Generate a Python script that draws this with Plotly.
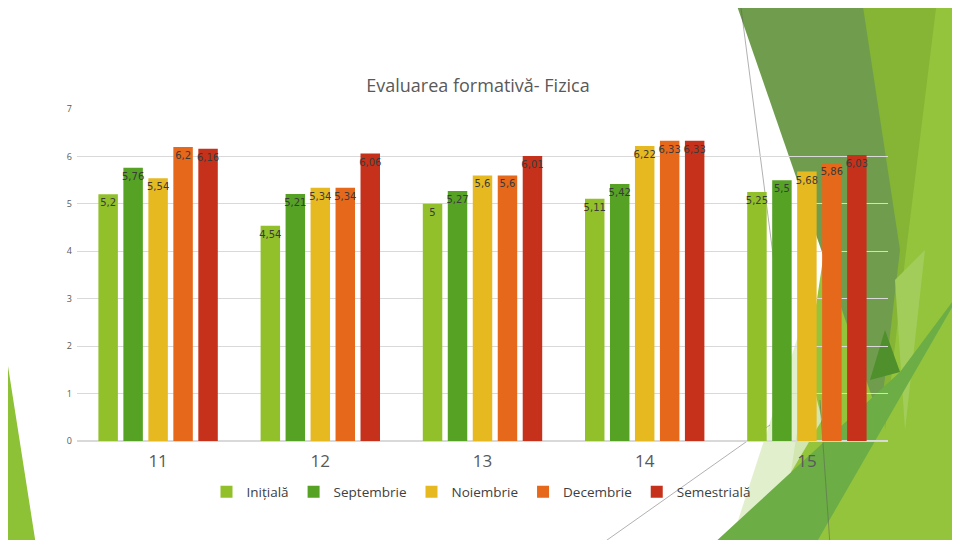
import plotly.graph_objects as go

# chart data
classes = ["11", "12", "13", "14", "15"]
series_names = ["Inițială", "Septembrie", "Noiembrie", "Decembrie", "Semestrială"]
initiala = [5.2, 4.54, 5.0, 5.11, 5.25]
septembrie = [5.76, 5.21, 5.27, 5.42, 5.5]
noiembrie = [5.54, 5.34, 5.6, 6.22, 5.68]
decembrie = [6.2, 5.34, 5.6, 6.33, 5.86]
semestriala = [6.16, 6.06, 6.01, 6.33, 6.03]
y_ticks = [0, 1, 2, 3, 4, 5, 6, 7]

colors = ["#92c02a", "#55a225", "#e7b921", "#e6681b", "#c6311b"]

# page body keeps an 8px margin, so the figure is drawn 8px smaller and
# everything below is measured in window pixels
OFF = 8
W, H = 960 - OFF, 540 - OFF
PX_L, PX_R, PX_T, PX_B = 77, 888, 109, 441  # plot area in window pixels
L, R, T, B = PX_L - OFF, W - (PX_R - OFF), PX_T - OFF, H - (PX_B - OFF)


def to_paper(x, y):
    return (x - PX_L) / (PX_R - PX_L), (PX_B - y) / (PX_B - PX_T)


def poly(points):
    pts = [to_paper(x, y) for x, y in points]
    return "M " + " L ".join("%.4f,%.4f" % p for p in pts) + " Z"


def fmt(v):
    s = ("%.2f" % v).rstrip("0").rstrip(".")
    return s.replace(".", ",")


# slide template decoration (Facet-like triangles)
decor = [
    ([(0, 315), (0, 545), (36, 545)], "#8dc136", 1),
    ([(862, 0), (965, 0), (965, 545), (780, 545)], "#93c43c", 1),
    ([(862, 0), (937, 0), (905, 260), (885, 430)], "#86b434", 1),
    ([(735, 0), (862, 0), (900, 250), (880, 420)], "#6f9d4d", 1),
    ([(895, 280), (925, 250), (905, 430)], "#a2cd5a", 1),
    ([(730, 545), (800, 330), (822, 420), (748, 545)], "#dcecc4", 0.85),
    ([(712, 545), (900, 372), (965, 285), (815, 545)], "#6cad46", 1),
    ([(870, 380), (885, 330), (900, 372)], "#4f8f2c", 1),
]

shapes = []
for pts, col, op in decor:
    shapes.append(dict(type="path", xref="paper", yref="paper", path=poly(pts),
                       fillcolor=col, opacity=op, line=dict(width=0), layer="below"))

for (x0, y0), (x1, y1) in [((740, 0), (775, 270)), ((600, 545), (770, 425)), ((820, 400), (830, 545))]:
    p0 = to_paper(x0, y0)
    p1 = to_paper(x1, y1)
    shapes.append(dict(type="line", xref="paper", yref="paper",
                       x0=p0[0], y0=p0[1], x1=p1[0], y1=p1[1],
                       line=dict(color="rgba(90,90,90,0.6)", width=0.8), layer="below"))

values = [initiala, septembrie, noiembrie, decembrie, semestriala]

fig = go.Figure()
for name, vals, col in zip(series_names, values, colors):
    fig.add_trace(go.Bar(
        x=classes, y=vals, name=name, marker=dict(color=col, line=dict(width=0)),
        text=[fmt(v) for v in vals], textposition="inside", insidetextanchor="end",
        constraintext="none", textangle=0,
        textfont=dict(size=10, color="#3a3a3a", family="DejaVu Sans"),
        hoverinfo="skip",
    ))

fig.update_layout(
    width=W, height=H,
    margin=dict(l=L, r=R, t=T, b=B),
    paper_bgcolor="white",
    plot_bgcolor="rgba(0,0,0,0)",
    barmode="group", bargap=0.23, bargroupgap=0.22,
    font=dict(family="Open Sans", color="#595959"),
    title=dict(text="Evaluarea formativă- Fizica", x=(478 - OFF) / W, xanchor="center",
               y=1 - (86 - OFF) / H, yanchor="middle", yref="container",
               font=dict(size=18, color="#595959", family="Open Sans")),
    showlegend=True,
    legend=dict(orientation="h", x=to_paper(481, 0)[0], xanchor="center",
                y=to_paper(0, 492)[1], yanchor="middle",
                font=dict(size=13.5, color="#404040"),
                itemwidth=30, traceorder="normal", bgcolor="rgba(0,0,0,0)"),
    shapes=shapes,
)

fig.update_xaxes(showgrid=False, showline=False, zeroline=False,
                 tickfont=dict(size=17, color="#595959"), ticklabelstandoff=8)
fig.update_yaxes(range=[0, 7], tickvals=y_ticks, showgrid=True, gridcolor="#d9d9d9",
                 gridwidth=1, zeroline=True, zerolinecolor="#d9d9d9", showline=False,
                 tickfont=dict(size=9, color="#595959"), ticklabelstandoff=4)

fig.write_html("out.html")
